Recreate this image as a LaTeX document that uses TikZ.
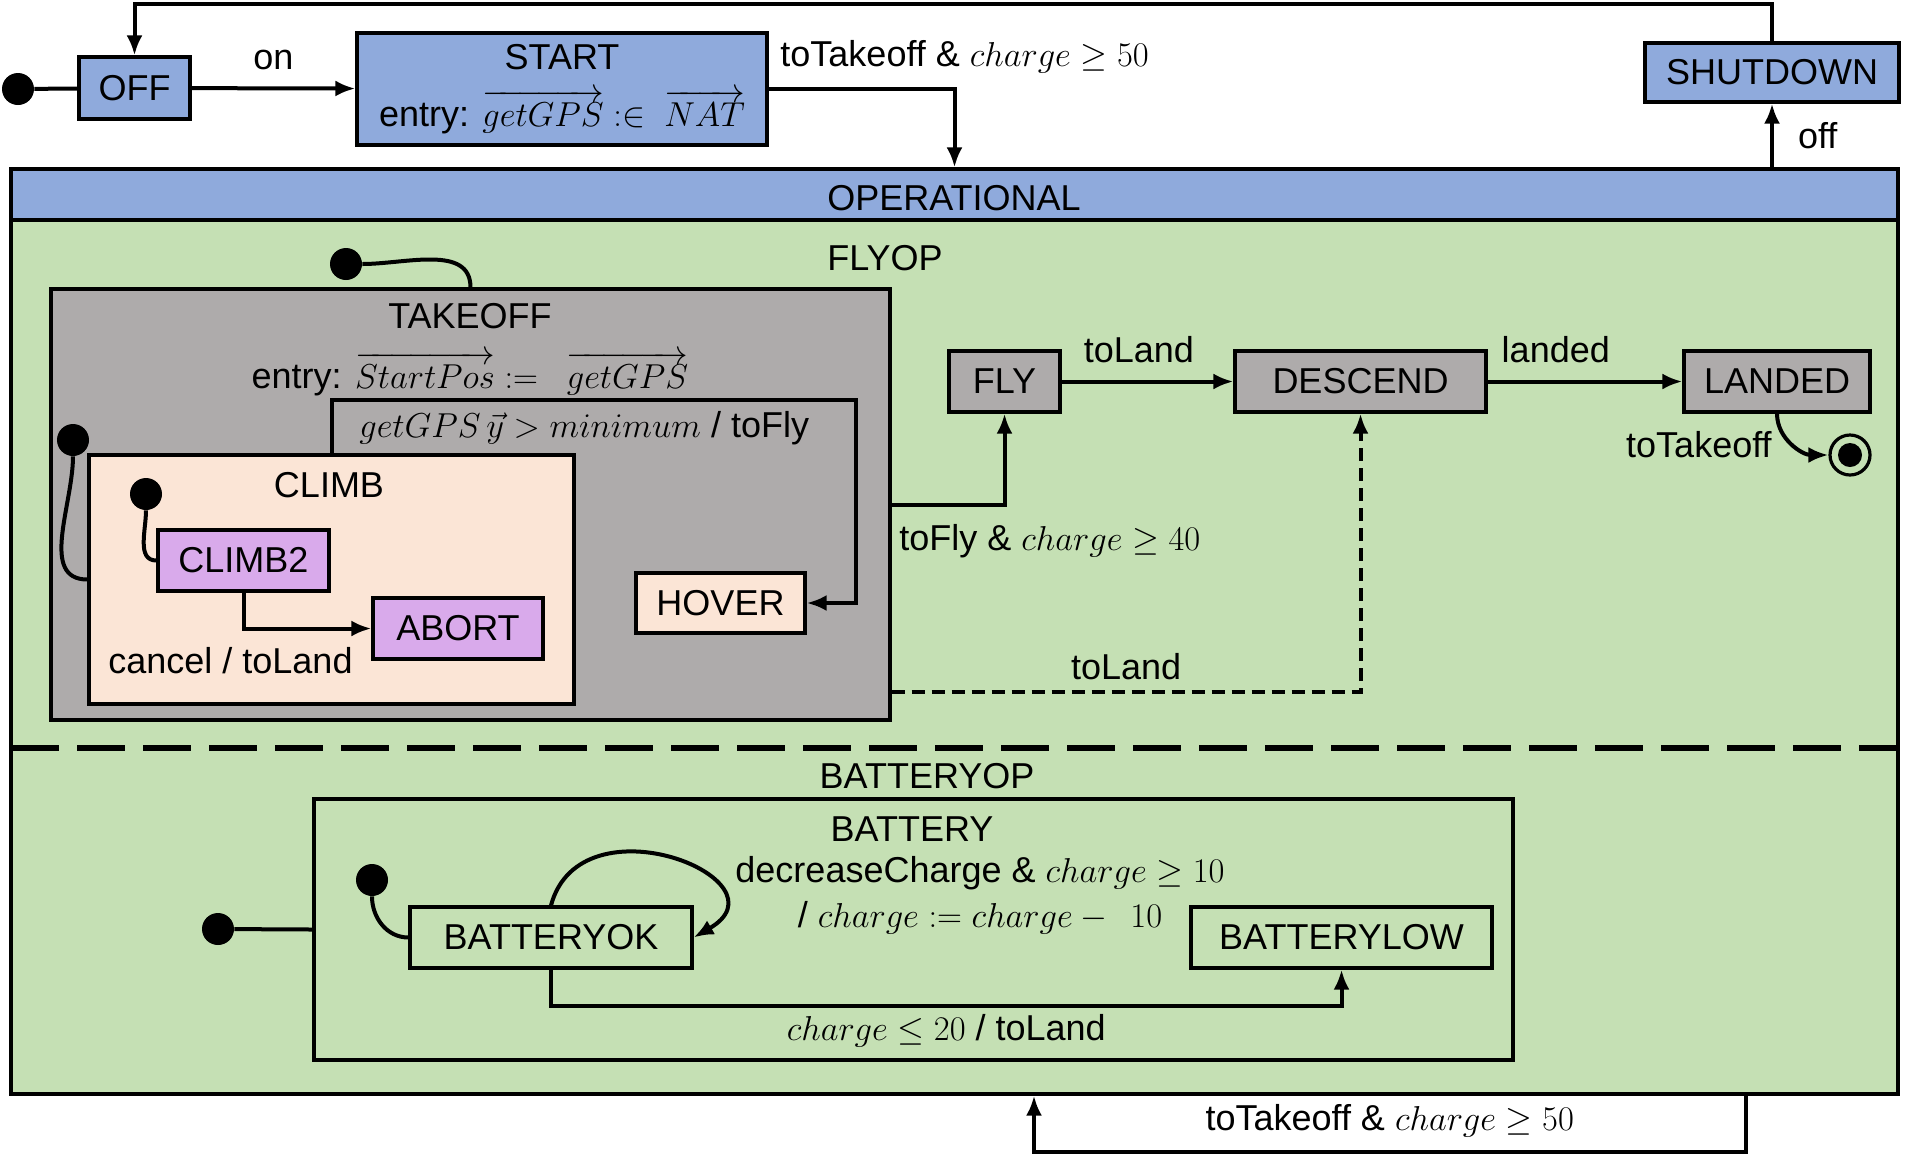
\documentclass[tikz,border=0pt]{standalone}
\usepackage{fontspec}
\setmainfont{Liberation Sans}
\usepackage{amsmath,amssymb}
\usetikzlibrary{arrows.meta, positioning, calc, fit}

\definecolor{opblue}{HTML}{8FAADC}
\definecolor{opgreen}{HTML}{C5E0B4}
\definecolor{flygray}{HTML}{AEABAB}
\definecolor{climbpeach}{HTML}{FBE5D6}
\definecolor{climbpurple}{HTML}{D9AAEB}

\begin{document}
\begin{tikzpicture}[
    x=0.5pt, y=-0.5pt,
    font=\fontsize{18}{21.6}\selectfont,
    every node/.style={inner sep=2pt},
    statebox/.style={rectangle, draw, line width=1.6pt, minimum height=30.5pt, text centered},
    region/.style={rectangle, draw, line width=1.6pt, inner sep=0pt},
    arrow/.style={-{Latex[length=10pt, width=8pt]}, line width=2pt},
    dashed_arrow/.style={arrow, dash pattern=on 6.5pt off 3.5pt},
    initline/.style={line width=2pt},
    initdot/.style={circle, fill=black, inner sep=0pt, minimum size=16pt},
    divider/.style={line width=3pt, dash pattern=on 24pt off 9pt}
]
\useasboundingbox (0,0) rectangle (1906,1164);

% Top level states
\node (ini) [initdot] at (18,89) {};
\node (off) [statebox, fill=opblue, minimum width=55.5pt, minimum height=31pt] at (134.5,88) {OFF};
\node (start) [statebox, fill=opblue, minimum width=205pt, minimum height=56pt, align=center] at (562,89) {START\\[7pt] entry: $\overrightarrow{getGPS}\;{:}{\in}\;\;\overrightarrow{NAT}$};
\node (shutdown) [statebox, fill=opblue, minimum width=127pt, minimum height=29.5pt] at (1772,72.5) {SHUTDOWN};

% OPERATIONAL
\node (operational) [region, fill=opgreen, fit={(11,169) (1898,1094)}] {};
\node (opbar) [region, fill=opblue, fit={(11,169) (1898,220)}] {};
\node (optitle) at (954,198) {OPERATIONAL};
\node (flyop) at (885,258) {FLYOP};
\draw [divider] (11,748) -- (1898,748);

% TAKEOFF and its substates
\node (takeoff) [region, fill=flygray, fit={(51,289) (890,720)}] {};
\node (takeofftitle) at (470,316) {TAKEOFF};
\node (takeoffentry) at (470,374) {entry: $\overrightarrow{StartPos} \mathrel{:=}\;\; \overrightarrow{getGPS}$};
\node (climb) [region, fill=climbpeach, fit={(89,455) (574,704)}] {};
\node (climbtitle) at (329,485) {CLIMB};
\node (climb2) [statebox, fill=climbpurple, minimum width=85.5pt] at (243.5,560.5) {CLIMB2};
\node (abort) [statebox, fill=climbpurple, minimum width=85pt] at (458,628.5) {ABORT};
\node (hover) [statebox, fill=climbpeach, minimum width=84.5pt, minimum height=30pt] at (720.5,603) {HOVER};

% Flying states
\node (fly) [statebox, fill=flygray, minimum width=55.5pt] at (1004.5,381.5) {FLY};
\node (descend) [statebox, fill=flygray, minimum width=125.5pt] at (1360.5,381.5) {DESCEND};
\node (landed) [statebox, fill=flygray, minimum width=93pt] at (1777,381.5) {LANDED};
\node (final) [circle, draw, line width=1.6pt, minimum size=20pt, inner sep=0pt] at (1850,455) {};
\node (finaldot) [circle, fill=black, minimum size=12pt, inner sep=0pt] at (final) {};

% BATTERYOP
\node (batteryop) at (927,776) {BATTERYOP};
\node (battery) [region, fit={(314,799) (1513,1060)}] {};
\node (batterytitle) at (912,829) {BATTERY};
\node (batteryok) [statebox, minimum width=141pt] at (551,937.5) {BATTERYOK};
\node (batterylow) [statebox, minimum width=150.5pt] at (1341.5,937.5) {BATTERYLOW};

% Initial pseudo states
\node (initakeoff) [initdot] at (346,264) {};
\node (iniclimb) [initdot] at (73,440) {};
\node (iniclimbtwo) [initdot] at (146,494) {};
\node (inibattery) [initdot] at (218,929) {};
\node (inibatteryok) [initdot] at (372,880) {};

% Transitions
\draw [initline] (ini) -- (off);
\draw [arrow] (off) -- (start) node[midway, above=6pt] {on};
\draw [arrow] (shutdown.north) -- ++(0,-37) -| (off.north);
\draw [arrow] (start.east) -| (operational.north);
\node (takeofflbl) [anchor=west] at (776,57) {toTakeoff \& $charge \geq 50$};
\draw [arrow] (shutdown.south |- operational.north) -- (shutdown.south) node[midway, right=10pt] {off};

\draw [initline] (initakeoff) to[out=0, in=90] (takeoff.north);
\draw [initline] (iniclimb) to[out=-90, in=180] (climb.west);
\draw [initline] (iniclimbtwo) to[out=-90, in=180] (climb2.west);
\draw [arrow] (climb2.south) |- (abort.west);
\node (cancellbl) [anchor=west] at (104,661) {cancel / toLand};
\draw [arrow] (climb.north) |- (856,400) |- (hover.east);
\node (toflylbl) [anchor=west] at (355,428) {$getGPS\,\vec{y} > minimum$ / toFly};

\draw [arrow] (takeoff.east) -| (fly.south);
\node (chargelbl) [anchor=west] at (895,541) {toFly \& $charge \geq 40$};
\draw [arrow] (fly) -- (descend) node[pos=0.45, above=6.5pt] {toLand};
\draw [arrow] (descend) -- (landed) node[pos=0.35, above=6.5pt] {landed};
\draw [arrow] (landed.south) to[out=-90, in=180] (final.west);
\node (finallbl) [anchor=east] at (1776,445) {toTakeoff};
\draw [dashed_arrow] ([yshift=15pt]takeoff.south east) -| (descend.south) node[pos=0.25, above=3pt] {toLand};

\draw [initline] (inibattery) -- (battery.west);
\draw [initline] (inibatteryok) to[out=-90, in=180] (batteryok.west);
\draw [arrow] (batteryok.north) to[out=75, in=30, looseness=2] (batteryok.east);
\node (decreaselbl) [align=center] at (980,895) {decreaseCharge \& $charge \geq 10$\\[1pt] / $charge \mathrel{:=} charge -\;\, 10$};
\draw [arrow] (batteryok.south) -- ++(0,36) -| (batterylow.south) node[pos=0.25, below=1.5pt] {$charge \leq 20$ / toLand};

\draw [arrow] ([xshift=395.5pt]operational.south) -- ++(0,56) -| ([xshift=39.75pt]operational.south) node[pos=0.25, above=4pt] {toTakeoff \& $charge \geq 50$};

\end{tikzpicture}
\end{document}
